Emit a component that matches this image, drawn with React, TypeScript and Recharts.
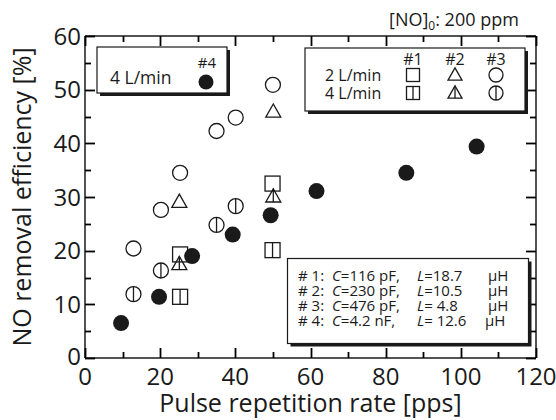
import React from 'react';
import { ScatterChart, Scatter, XAxis, YAxis } from 'recharts';

const FONT = '"Open Sans", "Noto Sans", sans-serif';
const INK = '#1a1a1a';

// Data: pulse repetition rate [pps] vs NO removal efficiency [%]
const rate1 = [25.3, 49.9];
const eff1_2L = [19.3, 32.5];
const eff1_4L = [11.4, 20.1];

const rate2 = [25.1, 50.1];
const eff2_2L = [29.1, 45.9];
const eff2_4L = [17.5, 30.1];

const rate3_2L = [12.9, 20.2, 25.3, 35.0, 40.1, 50.0];
const eff3_2L = [20.4, 27.6, 34.5, 42.3, 44.8, 50.9];
const rate3_4L = [12.9, 20.2, 35.0, 40.1];
const eff3_4L = [11.9, 16.3, 24.8, 28.3];

const rate4 = [9.6, 19.7, 28.5, 39.3, 49.4, 61.6, 85.5, 104.2];
const eff4 = [6.5, 11.4, 19.0, 23.0, 26.6, 31.1, 34.5, 39.4];

const X_DOMAIN = [0, 120];
const Y_DOMAIN = [0, 60];
const X_TICKS = [0, 10, 20, 30, 40, 50, 60, 70, 80, 90, 100, 110, 120];
const X_LABEL_STEP = 20;
const Y_TICKS = [0, 5, 10, 15, 20, 25, 30, 35, 40, 45, 50, 55, 60];
const Y_LABEL_STEP = 10;

const legendLines = [
  ['# 1:', 'C', '=116 pF,', 'L', '=18.7', 'μH'],
  ['# 2:', 'C', '=230 pF,', 'L', '=10.5', 'μH'],
  ['# 3:', 'C', '=476 pF,', 'L', '= 4.8', 'μH'],
  ['# 4:', 'C', '=4.2 nF,', 'L', '= 12.6', 'μH'],
];

const pts = (xs: number[], ys: number[]) => xs.map((x, i) => ({ x, y: ys[i] }));

// layout
const W = 556;
const H = 420;
const MARGIN = { top: 35, right: 19, left: 0, bottom: 0 };
const Y_AXIS_W = 85;
const X_AXIS_H = 62;
const PLOT = {
  left: MARGIN.left + Y_AXIS_W,
  right: W - MARGIN.right - 1,
  top: MARGIN.top + 1,
  bottom: H - MARGIN.bottom - X_AXIS_H,
};
const sx = (v: number) => PLOT.left + ((v - X_DOMAIN[0]) / (X_DOMAIN[1] - X_DOMAIN[0])) * (PLOT.right - PLOT.left);
const sy = (v: number) => PLOT.bottom - ((v - Y_DOMAIN[0]) / (Y_DOMAIN[1] - Y_DOMAIN[0])) * (PLOT.bottom - PLOT.top);

const SW = 1.3;
const MAJOR_LEN = 10;
const MINOR_LEN = 6;
const TICK_FONT = 24;
const X_GAP = 9.5;
const Y_GAP = 4;

type MP = { cx: number; cy: number; s?: number; bar?: boolean };

const SquareMark = ({ cx, cy, s = 15, bar }: MP) => (
  <g>
    <rect x={cx - s / 2} y={cy - s / 2} width={s} height={s} fill="none" stroke={INK} strokeWidth={SW} />
    {bar && <line x1={cx} x2={cx} y1={cy - s / 2} y2={cy + s / 2} stroke={INK} strokeWidth={SW} />}
  </g>
);
const TriMark = ({ cx, cy, s = 15, bar }: MP) => {
  const h = s * 0.88;
  const top = cy - h * 0.58;
  const bot = cy + h * 0.42;
  return (
    <g>
      <polygon points={`${cx},${top} ${cx - s / 2},${bot} ${cx + s / 2},${bot}`} fill="none" stroke={INK} strokeWidth={SW} />
      {bar && <line x1={cx} x2={cx} y1={top} y2={bot} stroke={INK} strokeWidth={SW} />}
    </g>
  );
};
const CircMark = ({ cx, cy, s = 15, bar }: MP) => (
  <g>
    <circle cx={cx} cy={cy} r={s / 2} fill="none" stroke={INK} strokeWidth={SW} />
    {bar && <line x1={cx} x2={cx} y1={cy - s / 2} y2={cy + s / 2} stroke={INK} strokeWidth={SW} />}
  </g>
);
const DotMark = ({ cx, cy, s = 16 }: MP) => <circle cx={cx} cy={cy} r={s / 2} fill={INK} stroke="none" />;

const BottomLabel = (p: any) => {
  const v = p.payload.value;
  if (v % X_LABEL_STEP !== 0) return <g />;
  return (
    <text x={p.x} y={p.y} dy="0.71em" textAnchor="middle" fontSize={TICK_FONT} fill={INK} fontFamily={FONT}>
      {v}
    </text>
  );
};
const LeftLabel = (p: any) => {
  const v = p.payload.value;
  if (v % Y_LABEL_STEP !== 0) return <g />;
  return (
    <text x={p.x} y={v === 0 ? p.y - 2 : p.y} dy="0.355em" textAnchor="end" fontSize={TICK_FONT} fill={INK} fontFamily={FONT}>
      {v}
    </text>
  );
};
const NoLabel = () => <g />;

const titleStyle = { fontSize: 25, fill: INK, fontFamily: FONT };

// inward tick marks on all four sides, drawn on top of everything
const TickMarks = () => (
  <g stroke="#000" strokeWidth={1.8} fill="none">
    {X_TICKS.map((v) => {
      const len = v % X_LABEL_STEP === 0 ? MAJOR_LEN : MINOR_LEN;
      const x = Math.round(sx(v)) + 0.5;
      return (
        <g key={`x${v}`}>
          <line x1={x} x2={x} y1={PLOT.bottom} y2={PLOT.bottom - len} />
          <line x1={x} x2={x} y1={PLOT.top} y2={PLOT.top + len} />
        </g>
      );
    })}
    {Y_TICKS.map((v) => {
      const len = v % Y_LABEL_STEP === 0 ? MAJOR_LEN : MINOR_LEN;
      const y = Math.round(sy(v)) + 0.5;
      return (
        <g key={`y${v}`}>
          <line x1={PLOT.left} x2={PLOT.left + len} y1={y} y2={y} />
          <line x1={PLOT.right} x2={PLOT.right - len} y1={y} y2={y} />
        </g>
      );
    })}
  </g>
);

export default function App() {
  return (
    <div style={{ position: 'absolute', left: 0, top: 0, width: W, height: H, background: '#fff' }}>
      <ScatterChart width={W} height={H} margin={MARGIN}>
        <XAxis
          xAxisId="x"
          dataKey="x"
          type="number"
          domain={X_DOMAIN}
          allowDataOverflow
          ticks={X_TICKS}
          interval={0}
          tickLine={false}
          tickSize={0}
          tickMargin={X_GAP}
          axisLine={{ stroke: INK, strokeWidth: 1.5 }}
          tick={BottomLabel}
          height={X_AXIS_H}
          label={{ value: 'Pulse repetition rate [pps]', position: 'insideBottom', offset: 8, style: titleStyle }}
        />
        <YAxis
          yAxisId="y"
          dataKey="y"
          type="number"
          domain={Y_DOMAIN}
          allowDataOverflow
          ticks={Y_TICKS}
          interval={0}
          tickLine={false}
          tickSize={0}
          tickMargin={Y_GAP}
          axisLine={{ stroke: INK, strokeWidth: 1.5 }}
          tick={LeftLabel}
          width={Y_AXIS_W}
          label={{ value: 'NO removal efficiency [%]', angle: -90, position: 'insideLeft', offset: 22, style: { ...titleStyle, textAnchor: 'middle' } }}
        />
        <XAxis
          xAxisId="top"
          dataKey="x"
          orientation="top"
          type="number"
          domain={X_DOMAIN}
          allowDataOverflow
          ticks={X_TICKS}
          interval={0}
          tickLine={false}
          tickSize={0}
          tick={NoLabel}
          axisLine={{ stroke: INK, strokeWidth: 1.5 }}
          height={1}
        />
        <YAxis
          yAxisId="right"
          dataKey="y"
          orientation="right"
          type="number"
          domain={Y_DOMAIN}
          allowDataOverflow
          ticks={Y_TICKS}
          interval={0}
          tickLine={false}
          tickSize={0}
          tick={NoLabel}
          axisLine={{ stroke: INK, strokeWidth: 1.5 }}
          width={1}
        />

        <Scatter xAxisId="x" yAxisId="y" data={pts(rate3_2L, eff3_2L)} isAnimationActive={false} shape={(p: any) => <CircMark cx={p.cx} cy={p.cy} />} />
        <Scatter xAxisId="x" yAxisId="y" data={pts(rate3_4L, eff3_4L)} isAnimationActive={false} shape={(p: any) => <CircMark cx={p.cx} cy={p.cy} bar />} />
        <Scatter xAxisId="x" yAxisId="y" data={pts(rate2, eff2_2L)} isAnimationActive={false} shape={(p: any) => <TriMark cx={p.cx} cy={p.cy} />} />
        <Scatter xAxisId="x" yAxisId="y" data={pts(rate2, eff2_4L)} isAnimationActive={false} shape={(p: any) => <TriMark cx={p.cx} cy={p.cy} bar />} />
        <Scatter xAxisId="x" yAxisId="y" data={pts(rate1, eff1_2L)} isAnimationActive={false} shape={(p: any) => <SquareMark cx={p.cx} cy={p.cy} />} />
        <Scatter xAxisId="x" yAxisId="y" data={pts(rate1, eff1_4L)} isAnimationActive={false} shape={(p: any) => <SquareMark cx={p.cx} cy={p.cy} bar />} />
        <Scatter xAxisId="top" yAxisId="right" data={pts(rate4, eff4)} isAnimationActive={false} shape={(p: any) => <DotMark cx={p.cx} cy={p.cy} />} />
      </ScatterChart>

      <svg width={W} height={H} style={{ position: 'absolute', left: 0, top: 0, pointerEvents: 'none' }} fontFamily={FONT}>
        <TickMarks />

        <text x={389} y={26} fontSize={18} fill={INK}>
          [NO]
          <tspan fontSize={12} dy={4}>0</tspan>
          <tspan dy={-4}>: 200 ppm</tspan>
        </text>

        <rect x={100} y={50} width={130} height={46} fill={INK} />
        <rect x={97} y={47} width={130} height={46} fill="#fff" stroke={INK} strokeWidth={1.2} />
        <text x={110} y={84} fontSize={17.5} fill={INK}>4 L/min</text>
        <text x={207} y={68} fontSize={15} textAnchor="middle" fill={INK}>#4</text>
        <DotMark cx={206} cy={82} s={15} />

        <rect x={308} y={51} width={220} height={63} fill={INK} />
        <rect x={305} y={48} width={220} height={63} fill="#fff" stroke={INK} strokeWidth={1.2} />
        <text x={413} y={65} fontSize={16} textAnchor="middle" fill={INK}>#1</text>
        <text x={455} y={65} fontSize={16} textAnchor="middle" fill={INK}>#2</text>
        <text x={496} y={65} fontSize={16} textAnchor="middle" fill={INK}>#3</text>
        <text x={325} y={81} fontSize={16} fill={INK}>2 L/min</text>
        <text x={325} y={99} fontSize={16} fill={INK}>4 L/min</text>
        <SquareMark cx={413} cy={75} s={13} />
        <TriMark cx={455} cy={75} s={14} />
        <CircMark cx={496} cy={75} s={14} />
        <SquareMark cx={413} cy={93} s={13} bar />
        <TriMark cx={455} cy={93} s={14} bar />
        <CircMark cx={496} cy={93} s={14} bar />

        <rect x={290.5} y={261.5} width={241} height={85} fill={INK} />
        <rect x={287.5} y={258.5} width={241} height={85} fill="#fff" stroke={INK} strokeWidth={1.2} />
        {legendLines.map((ln, i) => (
          <text key={i} y={280.5 + i * 15} fontSize={15} fill={INK}>
            <tspan x={298}>{ln[0]}</tspan>
            <tspan x={332} fontStyle="italic">{ln[1]}</tspan>
            <tspan>{ln[2]}</tspan>
            <tspan x={417} fontStyle="italic">{ln[3]}</tspan>
            <tspan>{ln[4]}</tspan>
            <tspan x={i === 3 ? 485 : 488}>{ln[5]}</tspan>
          </text>
        ))}
      </svg>
    </div>
  );
}
